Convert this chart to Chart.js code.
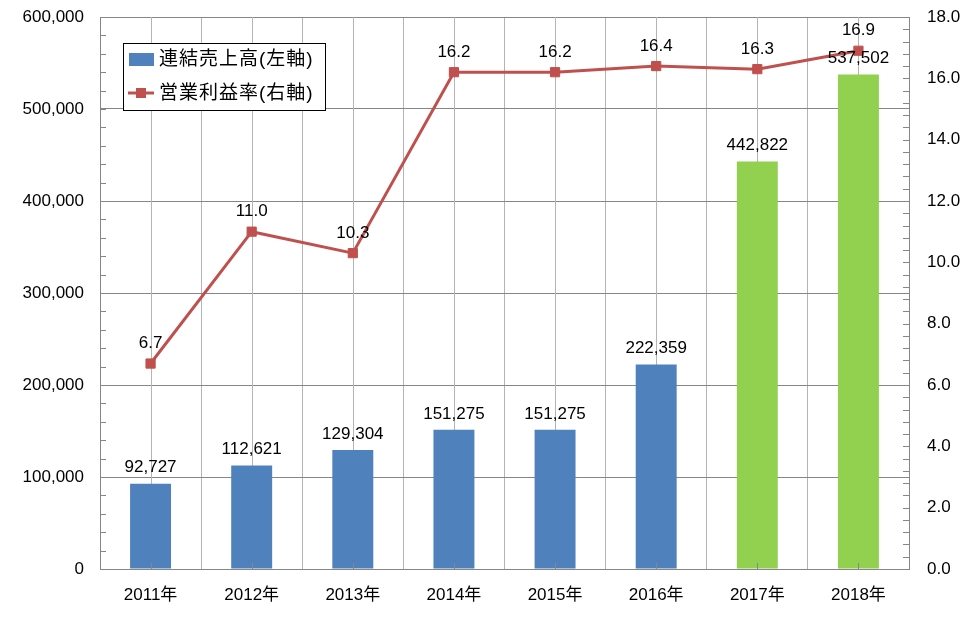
<!DOCTYPE html>
<html>
<head>
<meta charset="utf-8">
<script src="https://cdn.jsdelivr.net/npm/chart.js@4/dist/chart.umd.min.js"></script>
<style>
  html, body { margin: 0; padding: 0; background: #fff; }
  #grafico { display: block; }
</style>
</head>
<body>
<canvas id="grafico" width="975" height="637"></canvas>
<script>
const anios = ['2011年', '2012年', '2013年', '2014年', '2015年', '2016年', '2017年', '2018年'];
const ventas = [92727, 112621, 129304, 151275, 151275, 222359, 442822, 537502];
const margen = [6.7, 11.0, 10.3, 16.2, 16.2, 16.4, 16.3, 16.9];
const coloresBarra = ['#4F81BD', '#4F81BD', '#4F81BD', '#4F81BD', '#4F81BD', '#4F81BD', '#92D050', '#92D050'];
const nombreVentas = '連結売上高(左軸)';
const nombreMargen = '営業利益率(右軸)';

const FUENTE = "'Liberation Sans', 'Noto Sans CJK JP', sans-serif";
const GRIS_GRID = '#B4B4B4';
const GRIS_EJE = '#868686';

// lineas de rejilla en el centro de cada categoria, debajo de las barras
const rejillaCentro = {
  id: 'rejillaCentro',
  beforeDatasetsDraw(chart) {
    const ctx = chart.ctx;
    const area = chart.chartArea;
    const x = chart.scales.x;
    ctx.save();
    ctx.strokeStyle = GRIS_GRID;
    ctx.lineWidth = 1;
    anios.forEach(function (a, i) {
      const px = Math.round(x.getPixelForValue(i)) + 0.5;
      ctx.beginPath();
      ctx.moveTo(px, area.top);
      ctx.lineTo(px, area.bottom);
      ctx.stroke();
    });
    ctx.restore();
  }
};

// marcas menores hacia dentro y etiquetas de datos
const marcasYEtiquetas = {
  id: 'marcasYEtiquetas',
  afterDatasetsDraw(chart) {
    const ctx = chart.ctx;
    const area = chart.chartArea;
    const y = chart.scales.y;
    const y1 = chart.scales.y1;
    const x = chart.scales.x;
    ctx.save();
    ctx.strokeStyle = GRIS_EJE;
    ctx.lineWidth = 1;
    ctx.beginPath();
    for (let v = 0; v <= 600000; v += 20000) {
      const py = Math.round(y.getPixelForValue(v)) + 0.5;
      ctx.moveTo(area.left, py);
      ctx.lineTo(area.left + 6, py);
    }
    for (let v = 0; v <= 18.001; v += 0.4) {
      const py = Math.round(y1.getPixelForValue(v)) + 0.5;
      ctx.moveTo(area.right, py);
      ctx.lineTo(area.right - 6, py);
    }
    anios.forEach(function (a, i) {
      const px = Math.round(x.getPixelForValue(i)) + 0.5;
      ctx.moveTo(px, area.bottom);
      ctx.lineTo(px, area.bottom - 6);
    });
    ctx.stroke();

    ctx.fillStyle = '#000';
    ctx.font = '17px ' + FUENTE;
    ctx.textAlign = 'center';
    ctx.textBaseline = 'middle';
    // dataset 1 = barras, dataset 0 = linea
    chart.getDatasetMeta(1).data.forEach(function (el, i) {
      ctx.fillText(ventas[i].toLocaleString('en-US'), el.x, el.y - 16);
    });
    chart.getDatasetMeta(0).data.forEach(function (el, i) {
      ctx.fillText(margen[i].toFixed(1), el.x, el.y - 20);
    });
    ctx.restore();
  }
};

// leyenda dentro del area del grafico
const leyenda = {
  id: 'leyenda',
  afterDraw(chart) {
    const ctx = chart.ctx;
    const bx = 123.5, by = 43.5, bw = 202, bh = 67;
    ctx.save();
    ctx.fillStyle = '#fff';
    ctx.fillRect(bx, by, bw, bh);
    ctx.strokeStyle = '#000';
    ctx.lineWidth = 1;
    ctx.strokeRect(bx, by, bw, bh);

    ctx.fillStyle = '#4F81BD';
    ctx.fillRect(129, 53, 25, 13);

    ctx.strokeStyle = '#C0504D';
    ctx.lineWidth = 3;
    ctx.beginPath();
    ctx.moveTo(128, 93);
    ctx.lineTo(154, 93);
    ctx.stroke();
    ctx.fillStyle = '#C0504D';
    ctx.fillRect(136, 88, 10, 10);

    ctx.fillStyle = '#000';
    ctx.font = '19px ' + FUENTE;
    ctx.letterSpacing = '1px';
    ctx.textAlign = 'left';
    ctx.textBaseline = 'middle';
    ctx.fillText(nombreVentas, 159, 60);
    ctx.fillText(nombreMargen, 159, 94);
    ctx.restore();
  }
};

const ctx = document.getElementById('grafico').getContext('2d');
new Chart(ctx, {
  data: {
    labels: anios,
    datasets: [{
      type: 'line',
      label: nombreMargen,
      data: margen,
      yAxisID: 'y1',
      borderColor: '#C0504D',
      backgroundColor: '#C0504D',
      borderWidth: 3,
      pointStyle: 'rect',
      pointRadius: 6.5,
      pointBorderWidth: 1,
      tension: 0,
      order: 1
    }, {
      type: 'bar',
      label: nombreVentas,
      data: ventas,
      yAxisID: 'y',
      backgroundColor: coloresBarra,
      categoryPercentage: 1,
      barPercentage: 0.405,
      order: 2
    }]
  },
  options: {
    responsive: false,
    devicePixelRatio: 1,
    animation: false,
    layout: { padding: { top: 17, left: 0, right: 0, bottom: 0 } },
    plugins: {
      legend: { display: false },
      tooltip: { enabled: false }
    },
    scales: {
      x: {
        offset: true,
        grid: { offset: true, color: GRIS_GRID, tickLength: 16, tickColor: 'rgba(0,0,0,0)' },
        border: { color: GRIS_EJE },
        ticks: { color: '#000', font: { family: FUENTE, size: 17 }, padding: 0 },
        afterFit: function (s) { s.height = 68; }
      },
      y: {
        position: 'left',
        min: 0,
        max: 600000,
        ticks: {
          stepSize: 100000,
          color: '#000',
          font: { family: FUENTE, size: 17 },
          padding: 0,
          callback: function (v) { return v.toLocaleString('en-US'); }
        },
        grid: { color: GRIS_EJE, tickLength: 16, tickColor: 'rgba(0,0,0,0)' },
        border: { color: GRIS_EJE },
        afterFit: function (s) { s.width = 100; }
      },
      y1: {
        position: 'right',
        min: 0,
        max: 18,
        ticks: {
          stepSize: 2,
          color: '#000',
          font: { family: FUENTE, size: 17 },
          padding: 0,
          callback: function (v) { return v.toFixed(1); }
        },
        grid: { drawOnChartArea: false, tickLength: 18, tickColor: 'rgba(0,0,0,0)' },
        border: { color: GRIS_EJE },
        afterFit: function (s) { s.width = 66; }
      }
    }
  },
  plugins: [rejillaCentro, marcasYEtiquetas, leyenda]
});
</script>
</body>
</html>
